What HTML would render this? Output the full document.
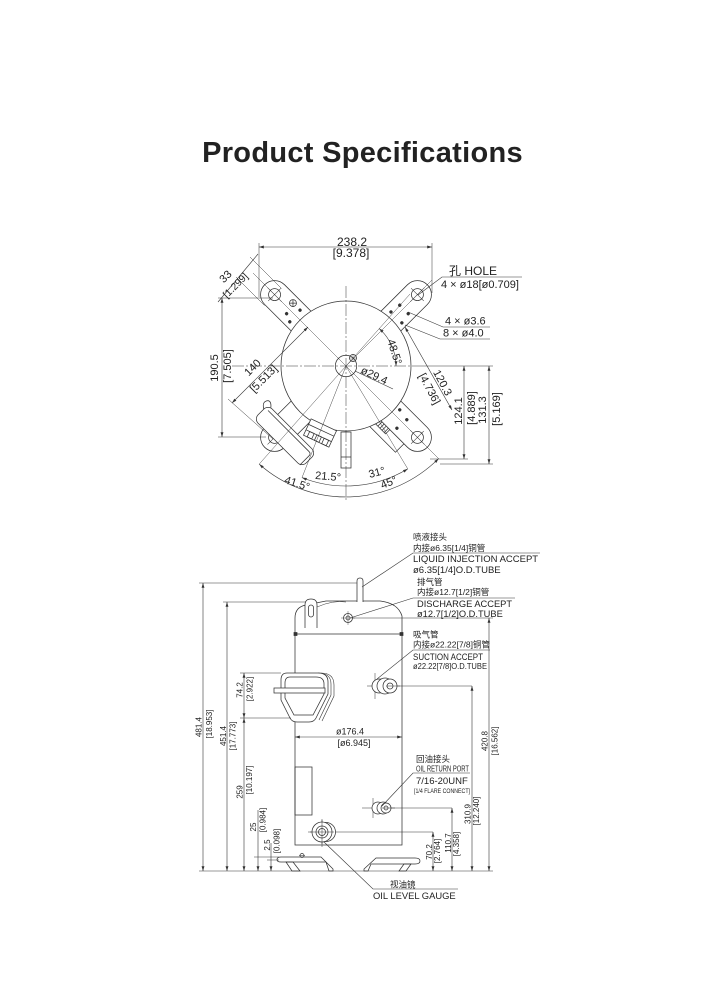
<!DOCTYPE html>
<html><head><meta charset="utf-8"><style>
html,body{margin:0;padding:0;background:#fff;}
svg{display:block;}
text{font-family:"Liberation Sans","Noto Sans CJK SC",sans-serif;fill:#222;stroke:none;}
</style></head><body>
<svg width="728" height="998" viewBox="0 0 728 998" xmlns="http://www.w3.org/2000/svg">
<defs>
<marker id="a" viewBox="0 0 8 6" refX="8" refY="3" markerWidth="5" markerHeight="3.6" orient="auto-start-reverse" markerUnits="userSpaceOnUse"><path d="M0,0.6 L8,3 L0,5.4z" fill="#333"/></marker>
</defs>
<rect width="728" height="998" fill="#fff"/>
<text x="362.5" y="162" font-size="29" font-weight="700" text-anchor="middle" letter-spacing="0.3" fill="#111">Product Specifications</text>

<!-- ================= TOP VIEW ================= -->
<g stroke="#333" stroke-width="0.75" fill="none">
  <!-- heater box on BR lug -->
  <g transform="translate(346,366) rotate(45)">
    <rect x="58" y="6" width="38" height="20" fill="#fff"/>
    <rect x="62" y="10" width="14" height="10" fill="#fff"/>
    <line x1="65" y1="10" x2="65" y2="20"/><line x1="68" y1="10" x2="68" y2="20"/><line x1="71" y1="10" x2="71" y2="20"/><line x1="74" y1="10" x2="74" y2="20"/>
  </g>
  <!-- lugs -->
  <g transform="translate(346,366) rotate(-135)">
    <path d="M50,-14 L101,-14 A14,14 0 0 1 101,14 L50,14" fill="#fff"/>
    <circle cx="101" cy="0" r="6"/><line x1="91" y1="0" x2="111" y2="0" stroke-width="0.5"/><line x1="101" y1="-9" x2="101" y2="9" stroke-width="0.5"/>
    <circle cx="82" cy="7" r="3.5"/><line x1="79.5" y1="4.5" x2="84.5" y2="9.5"/><line x1="79.5" y1="9.5" x2="84.5" y2="4.5"/>
    <circle cx="72" cy="7" r="1.3" fill="#333"/><circle cx="79" cy="-5" r="1.3" fill="#333"/><circle cx="71" cy="-8.5" r="1.3" fill="#333"/>
  </g>
  <g transform="translate(346,366) rotate(-45)">
    <path d="M50,-14 L101,-14 A14,14 0 0 1 101,14 L50,14" fill="#fff"/>
    <circle cx="101" cy="0" r="6"/><line x1="91" y1="0" x2="111" y2="0" stroke-width="0.5"/><line x1="101" y1="-9" x2="101" y2="9" stroke-width="0.5"/>
    <circle cx="70" cy="-6.4" r="1.3" fill="#333"/><circle cx="81" cy="-5" r="1.3" fill="#333"/><circle cx="70" cy="9" r="1.3" fill="#333"/><circle cx="81" cy="7" r="1.3" fill="#333"/>
  </g>
  <g transform="translate(346,366) rotate(45)">
    <path d="M50,-14 L101,-14 A14,14 0 0 1 101,14 L50,14" fill="#fff"/>
    <circle cx="101" cy="0" r="6"/><line x1="91" y1="0" x2="111" y2="0" stroke-width="0.5"/><line x1="101" y1="-9" x2="101" y2="9" stroke-width="0.5"/>
    <circle cx="69" cy="-7" r="1.3" fill="#333"/><circle cx="81" cy="-5" r="1.3" fill="#333"/><circle cx="80" cy="8" r="1.3" fill="#333"/>
  </g>
  <g transform="translate(346,366) rotate(135)">
    <path d="M50,-14 L101,-14 A14,14 0 0 1 101,14 L50,14" fill="#fff"/>
    <circle cx="101" cy="0" r="6"/><line x1="91" y1="0" x2="111" y2="0" stroke-width="0.5"/><line x1="101" y1="-9" x2="101" y2="9" stroke-width="0.5"/>
  </g>
  <!-- main shell circle -->
  <circle cx="346" cy="366" r="65" fill="#fff"/>
  <!-- terminal cover -->
  <g transform="translate(285,436) rotate(45)">
    <rect x="-34" y="-10" width="68" height="20" rx="6" fill="#fff"/>
    <path d="M-30,-6 H28 Q31,-6 31,-3 V10"/>
    <path d="M-34,-4 Q-41,-8 -37,-13 Q-34,-15 -30,-10"/>
  </g>
  <!-- terminal block -->
  <g transform="translate(320,433) rotate(25)">
    <rect x="-14" y="-9" width="28" height="18" fill="#fff"/>
    <line x1="-14" y1="-3" x2="14" y2="-3"/><line x1="-14" y1="3" x2="14" y2="3"/>
    <rect x="-10" y="3" width="5" height="6"/><rect x="-2" y="3" width="5" height="6"/><rect x="6" y="3" width="5" height="6"/>
  </g>
  <!-- bottom tube -->
  <rect x="341" y="432" width="10" height="36" fill="#fff"/>
  <line x1="341" y1="457" x2="351" y2="457"/>

  <!-- centre lines -->
  <line x1="346" y1="286" x2="346" y2="500" stroke-width="0.5" stroke-dasharray="12,2,2,2"/>
  <line x1="232" y1="366" x2="420" y2="366" stroke-width="0.5" stroke-dasharray="12,2,2,2"/>
  <line x1="420" y1="366" x2="493" y2="366" stroke-width="0.5"/>
  <circle cx="346" cy="366" r="10.7"/>
  <circle cx="353" cy="358" r="3.5"/><line x1="349" y1="358" x2="357" y2="358" stroke-width="0.4"/><line x1="353" y1="354" x2="353" y2="362" stroke-width="0.4"/>
  <!-- lug axes -->
  <g stroke-width="0.45">
    <line x1="346" y1="366" x2="253" y2="273"/>
    <line x1="346" y1="366" x2="432" y2="280"/>
    <line x1="346" y1="366" x2="410" y2="294"/>
    <!-- radial lines for angles -->
    <line x1="346" y1="366" x2="302" y2="477.6"/>
    <line x1="346" y1="366" x2="259.2" y2="464.1"/>
    <line x1="346" y1="366" x2="407.8" y2="468.9"/>
    <line x1="346" y1="366" x2="438.6" y2="458.6"/>
  </g>
  <!-- angle arcs -->
  <path d="M302,477.6 A120,120 0 0 0 407.8,468.9" stroke-width="0.6" marker-start="url(#a)" marker-end="url(#a)"/>
  <path d="M259.2,464.1 A131,131 0 0 0 438.6,458.6" stroke-width="0.6" marker-start="url(#a)" marker-end="url(#a)"/>
  <path d="M396,366 A50,50 0 0 0 379.1,328.5" stroke-width="0.6" marker-start="url(#a)" marker-end="url(#a)"/>
  <!-- 238.2 -->
  <line x1="259" y1="243" x2="259" y2="297" stroke-width="0.5"/>
  <line x1="432" y1="243" x2="432" y2="293" stroke-width="0.5"/>
  <line x1="259" y1="247" x2="432" y2="247" stroke-width="0.6" marker-start="url(#a)" marker-end="url(#a)"/>
  <!-- 33 -->
  <line x1="281.5" y1="288.5" x2="250" y2="257" stroke-width="0.5"/>
  <line x1="264.5" y1="305.5" x2="236" y2="277" stroke-width="0.5"/>
  <line x1="218" y1="302" x2="258" y2="254" stroke-width="0.6"/>
  <!-- 190.5 -->
  <line x1="218" y1="298" x2="273" y2="298" stroke-width="0.5"/>
  <line x1="218" y1="437" x2="266" y2="437" stroke-width="0.5"/>
  <line x1="222" y1="298" x2="222" y2="437" stroke-width="0.6" marker-start="url(#a)" marker-end="url(#a)"/>
  <!-- 140 -->
  <line x1="273" y1="439" x2="228" y2="399" stroke-width="0.5"/>
  <line x1="232" y1="403" x2="308" y2="327" stroke-width="0.6" marker-start="url(#a)" marker-end="url(#a)"/>
  <!-- 120.3 -->
  <line x1="405" y1="327" x2="452" y2="410" stroke-width="0.6" marker-start="url(#a)" marker-end="url(#a)"/>
  <!-- 124.1 / 131.3 -->
  <line x1="430" y1="459" x2="468" y2="459" stroke-width="0.5"/>
  <line x1="440" y1="464" x2="493" y2="464" stroke-width="0.5"/>
  <line x1="464" y1="366" x2="464" y2="459" stroke-width="0.6" marker-start="url(#a)" marker-end="url(#a)"/>
  <line x1="489" y1="366" x2="489" y2="464" stroke-width="0.6" marker-start="url(#a)" marker-end="url(#a)"/>
  <!-- leaders -->
  <polyline points="418,295 442,277 522,277" stroke-width="0.6"/>
  <polyline points="408,312 443,327 490,327" stroke-width="0.6"/>
  <polyline points="405,325 440,339 490,339" stroke-width="0.6"/>
  <line x1="355" y1="371" x2="393" y2="389" stroke-width="0.6"/>
</g>

<!-- top view text -->
<g font-size="11">
  <text x="352" y="246" font-size="12" text-anchor="middle">238.2</text>
  <text x="351" y="257" font-size="12" text-anchor="middle">[9.378]</text>
  <text x="449" y="275" font-size="12">孔 HOLE</text>
  <text x="441" y="288">4 × ø18[ø0.709]</text>
  <text x="445" y="324.5">4 × ø3.6</text>
  <text x="443" y="336.5">8 × ø4.0</text>
  <text transform="translate(226,277) rotate(-45)" text-anchor="middle" dominant-baseline="central">33</text>
  <text transform="translate(236,286) rotate(-45)" text-anchor="middle" dominant-baseline="central" font-size="10">[1.299]</text>
  <text transform="translate(215,368) rotate(-90)" text-anchor="middle" dominant-baseline="central">190.5</text>
  <text transform="translate(228,366) rotate(-90)" text-anchor="middle" dominant-baseline="central">[7.505]</text>
  <text transform="translate(253,368) rotate(-45)" text-anchor="middle" dominant-baseline="central">140</text>
  <text transform="translate(264,379) rotate(-45)" text-anchor="middle" dominant-baseline="central">[5.513]</text>
  <text transform="translate(394,352) rotate(72)" text-anchor="middle" dominant-baseline="central">48.5°</text>
  <text transform="translate(374,376) rotate(25)" text-anchor="middle" dominant-baseline="central">ø29.4</text>
  <text transform="translate(442,383) rotate(62)" text-anchor="middle" dominant-baseline="central">120.3</text>
  <text transform="translate(429,389) rotate(62)" text-anchor="middle" dominant-baseline="central">[4.736]</text>
  <text transform="translate(459,411) rotate(-90)" text-anchor="middle" dominant-baseline="central">124.1</text>
  <text transform="translate(472,408) rotate(-90)" text-anchor="middle" dominant-baseline="central">[4.889]</text>
  <text transform="translate(483,410) rotate(-90)" text-anchor="middle" dominant-baseline="central">131.3</text>
  <text transform="translate(497,409) rotate(-90)" text-anchor="middle" dominant-baseline="central">[5.169]</text>
  <text transform="translate(328,477) rotate(5)" text-anchor="middle" dominant-baseline="central">21.5°</text>
  <text transform="translate(377,473) rotate(-15)" text-anchor="middle" dominant-baseline="central">31°</text>
  <text transform="translate(297,484) rotate(18)" text-anchor="middle" dominant-baseline="central">41.5°</text>
  <text transform="translate(389,483) rotate(-22)" text-anchor="middle" dominant-baseline="central">45°</text>
</g>

<!-- ================= SIDE VIEW ================= -->
<g stroke="#333" stroke-width="0.75" fill="none">
  <!-- shell -->
  <path d="M295,845 V618 Q295,607 306,605 L326,601 L380,601 Q398,603 402,616 V845 Z" fill="#fff"/>
  <path d="M317,607 Q333,600 346,602" stroke-width="0.5"/>
  <!-- liquid injection tube -->
  <path d="M357,602 V581 Q357,578 360,578 Q363,578 363,581 V602" fill="#fff"/>
  <!-- lifting tab -->
  <path d="M305,628 V605 Q305,599 311,599 Q317,599 317,605 V628" fill="#fff"/>
  <rect x="308.5" y="605" width="5" height="12" rx="2.5"/>
  <!-- weld seam -->
  <line x1="295" y1="634" x2="402" y2="634"/>
  <rect x="294" y="632.5" width="3" height="3" fill="#333"/><rect x="400" y="632.5" width="3" height="3" fill="#333"/>
  <!-- discharge port -->
  <circle cx="348" cy="618" r="4.5"/><circle cx="348" cy="618" r="2"/>
  <line x1="341" y1="618" x2="355" y2="618" stroke-width="0.4"/><line x1="348" y1="611" x2="348" y2="625" stroke-width="0.4"/>
  <!-- terminal cover -->
  <path d="M321,673 Q334,673 334,685 V696 L322,721" stroke-width="0.6"/>
  <path d="M318,673 Q331,673 331,684 V695 L319,720" stroke-width="0.6"/>
  <path d="M287,673 L318,673 Q328,673 328,682 V694 L316,718 Q314,722 309,722 L297,722 Q292,722 290,718 L281,700 V680 Q281,673 287,673 Z" fill="#fff"/>
  <path d="M290,677 L316,677 Q324,677 324,684 V694 L313,715 L294,715 L285,698 V683 Q285,677 290,677 Z"/>
  <rect x="274" y="688" width="51" height="5" fill="#fff"/>
  <!-- small rect lower left -->
  <rect x="295" y="767" width="17" height="48"/>
  <!-- suction port -->
  <line x1="367" y1="686" x2="472" y2="686" stroke-width="0.5"/>
  <line x1="375" y1="673" x2="375" y2="699" stroke-width="0.5"/>
  <circle cx="379" cy="686" r="7" fill="#fff"/><circle cx="385" cy="686" r="8" fill="#fff"/><circle cx="390" cy="686" r="7" fill="#fff"/><circle cx="390" cy="686" r="3"/>
  <line x1="386" y1="686" x2="400" y2="686" stroke-width="0.5"/>
  <!-- oil return port -->
  <line x1="362" y1="808" x2="452" y2="808" stroke-width="0.5"/>
  <line x1="373" y1="798" x2="373" y2="818" stroke-width="0.5"/>
  <circle cx="378" cy="808" r="6" fill="#fff"/><circle cx="383" cy="808" r="6" fill="#fff"/><circle cx="386" cy="808" r="5" fill="#fff"/><circle cx="386" cy="808" r="2"/>
  <line x1="382" y1="808" x2="395" y2="808" stroke-width="0.5"/>
  <!-- oil level gauge -->
  <line x1="308" y1="832" x2="433" y2="832" stroke-width="0.5"/>
  <line x1="322" y1="819" x2="322" y2="847" stroke-width="0.5"/>
  <circle cx="326" cy="832" r="9.5" fill="#fff"/><circle cx="322" cy="832" r="10" fill="#fff"/><circle cx="322" cy="832" r="6"/><circle cx="322" cy="832" r="3.5"/>
  <line x1="310" y1="832" x2="334" y2="832" stroke-width="0.5"/><line x1="322" y1="820" x2="322" y2="844" stroke-width="0.5"/>
  <!-- feet -->
  <path d="M281,857 L321,857 L333,869 V871 H329 L326,862 H281 Q277,862 277,859.5 Q277,857 281,857 Z" fill="#fff"/>
  <path d="M286,862 L293,862 L300,871 L292,871 Z"/>
  <circle cx="302" cy="855.5" r="2"/><line x1="299" y1="855.5" x2="305" y2="855.5" stroke-width="0.5"/>
  <path d="M415,858 L376,858 L364,869 V871 H368 L371,864 H415 Q420,864 420,861 Q420,858 415,858 Z" fill="#fff"/>
  <path d="M404,864 L411,864 L406,871 L399,871 Z"/>
  <!-- base line -->
  <line x1="199" y1="871" x2="493" y2="871" stroke-width="0.6"/>

  <!-- dimensions -->
  <line x1="199" y1="583" x2="357" y2="583" stroke-width="0.5"/>
  <line x1="203" y1="583" x2="203" y2="871" stroke-width="0.6" marker-start="url(#a)" marker-end="url(#a)"/>
  <line x1="223" y1="602" x2="306" y2="602" stroke-width="0.5"/>
  <line x1="227" y1="602" x2="227" y2="871" stroke-width="0.6" marker-start="url(#a)" marker-end="url(#a)"/>
  <line x1="240" y1="673" x2="281" y2="673" stroke-width="0.5"/>
  <line x1="240" y1="718" x2="291" y2="718" stroke-width="0.5"/>
  <line x1="244" y1="673" x2="244" y2="718" stroke-width="0.6" marker-start="url(#a)" marker-end="url(#a)"/>
  <line x1="244" y1="718" x2="244" y2="871" stroke-width="0.6" marker-start="url(#a)" marker-end="url(#a)"/>
  <line x1="254" y1="857" x2="279" y2="857" stroke-width="0.5"/>
  <line x1="258" y1="810" x2="258" y2="871" stroke-width="0.6" marker-end="url(#a)"/>
  <line x1="267" y1="860" x2="279" y2="860" stroke-width="0.5"/>
  <line x1="271" y1="843" x2="271" y2="871" stroke-width="0.6" marker-end="url(#a)"/>
  <line x1="295" y1="737" x2="402" y2="737" stroke-width="0.6" marker-start="url(#a)" marker-end="url(#a)"/>
  <line x1="352" y1="618" x2="493" y2="618" stroke-width="0.5"/>
  <line x1="489" y1="618" x2="489" y2="871" stroke-width="0.6" marker-start="url(#a)" marker-end="url(#a)"/>
  <line x1="472" y1="686" x2="472" y2="871" stroke-width="0.6" marker-start="url(#a)" marker-end="url(#a)"/>
  <line x1="452" y1="808" x2="452" y2="871" stroke-width="0.6" marker-start="url(#a)" marker-end="url(#a)"/>
  <line x1="433" y1="832" x2="433" y2="871" stroke-width="0.6" marker-start="url(#a)" marker-end="url(#a)"/>

  <!-- leaders -->
  <polyline points="362,587 413,553 540,553" stroke-width="0.6"/>
  <polyline points="350,618 413,598 515,598" stroke-width="0.6"/>
  <polyline points="377,679 413,650 490,650" stroke-width="0.6"/>
  <polyline points="382,806 413,773 470,773" stroke-width="0.6"/>
  <polyline points="324,842 373,889 458,889" stroke-width="0.6"/>
</g>

<!-- side view dim text -->
<g font-size="8">
  <text transform="translate(199,727) rotate(-90)" text-anchor="middle" dominant-baseline="central">481.4</text>
  <text transform="translate(209.5,724) rotate(-90)" text-anchor="middle" dominant-baseline="central">[18.953]</text>
  <text transform="translate(223.5,736) rotate(-90)" text-anchor="middle" dominant-baseline="central">451.4</text>
  <text transform="translate(233,736) rotate(-90)" text-anchor="middle" dominant-baseline="central">[17.773]</text>
  <text transform="translate(240,690) rotate(-90)" text-anchor="middle" dominant-baseline="central">74.2</text>
  <text transform="translate(250,689) rotate(-90)" text-anchor="middle" dominant-baseline="central">[2.922]</text>
  <text transform="translate(240,792) rotate(-90)" text-anchor="middle" dominant-baseline="central">259</text>
  <text transform="translate(249.5,780) rotate(-90)" text-anchor="middle" dominant-baseline="central">[10.197]</text>
  <text transform="translate(253.5,827) rotate(-90)" text-anchor="middle" dominant-baseline="central">25</text>
  <text transform="translate(263,820) rotate(-90)" text-anchor="middle" dominant-baseline="central">[0.984]</text>
  <text transform="translate(267.5,845) rotate(-90)" text-anchor="middle" dominant-baseline="central">2.5</text>
  <text transform="translate(277,841) rotate(-90)" text-anchor="middle" dominant-baseline="central">[0.098]</text>
  <text transform="translate(485,741) rotate(-90)" text-anchor="middle" dominant-baseline="central">420.8</text>
  <text transform="translate(495,741) rotate(-90)" text-anchor="middle" dominant-baseline="central">[16.562]</text>
  <text transform="translate(468,814) rotate(-90)" text-anchor="middle" dominant-baseline="central">310.9</text>
  <text transform="translate(476.5,811) rotate(-90)" text-anchor="middle" dominant-baseline="central">[12.240]</text>
  <text transform="translate(448.5,843) rotate(-90)" text-anchor="middle" dominant-baseline="central">110.7</text>
  <text transform="translate(456.5,844) rotate(-90)" text-anchor="middle" dominant-baseline="central">[4.358]</text>
  <text transform="translate(429.5,852) rotate(-90)" text-anchor="middle" dominant-baseline="central">70.2</text>
  <text transform="translate(437.5,851) rotate(-90)" text-anchor="middle" dominant-baseline="central">[2.764]</text>
  <text x="350" y="734.5" font-size="9" text-anchor="middle">ø176.4</text>
  <text x="354" y="746" font-size="9" text-anchor="middle">[ø6.945]</text>
</g>

<!-- side view labels -->
<g font-size="9">
  <text x="413" y="540" font-size="8.5">喷液接头</text>
  <text x="413" y="551" font-size="8.5">内接ø6.35[1/4]铜管</text>
  <text x="413" y="562" font-size="9.5">LIQUID INJECTION ACCEPT</text>
  <text x="413" y="573" font-size="9.5">ø6.35[1/4]O.D.TUBE</text>
  <text x="417" y="585" font-size="8.5">排气管</text>
  <text x="417" y="595" font-size="8.5">内接ø12.7[1/2]铜管</text>
  <text x="417" y="607" font-size="9.3">DISCHARGE ACCEPT</text>
  <text x="417" y="617" font-size="9.3">ø12.7[1/2]O.D.TUBE</text>
  <text x="413" y="637.5" font-size="8.5">吸气管</text>
  <text x="413" y="647.5" font-size="8.5">内接ø22.22[7/8]铜管</text>
  <text x="413" y="660" font-size="9" textLength="70" lengthAdjust="spacingAndGlyphs">SUCTION ACCEPT</text>
  <text x="413" y="669" font-size="8" textLength="74" lengthAdjust="spacingAndGlyphs">ø22.22[7/8]O.D.TUBE</text>
  <text x="416" y="762" font-size="8.5">回油接头</text>
  <text x="416" y="771.5" font-size="8" textLength="53" lengthAdjust="spacingAndGlyphs">OIL RETURN PORT</text>
  <text x="416" y="784" font-size="9.5">7/16-20UNF</text>
  <text x="414" y="793" font-size="6.5" textLength="56" lengthAdjust="spacingAndGlyphs">[1/4 FLARE CONNECT]</text>
  <text x="390" y="887.5" font-size="8.5">视油镜</text>
  <text x="373" y="899" font-size="9.4">OIL LEVEL GAUGE</text>
</g>
</svg>
</body></html>
